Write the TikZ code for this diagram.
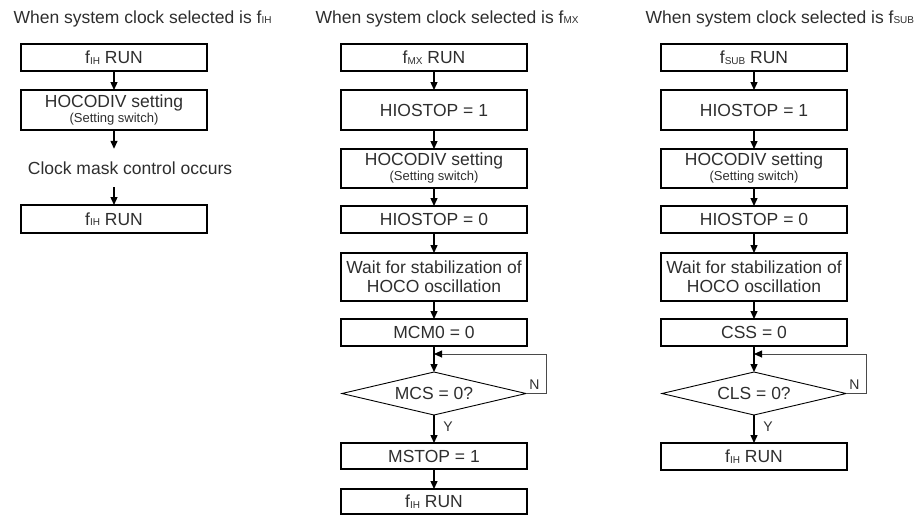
\documentclass[tikz,border=0pt]{standalone}
\usepackage{fontspec}
\setmainfont{Liberation Sans}
\usetikzlibrary{shapes.geometric, arrows.meta, positioning}
\definecolor{txtgray}{HTML}{2E2E2E}
\definecolor{loopgray}{HTML}{4A4A4A}
\newcommand{\clk}[1]{f\raisebox{-0.6pt}{\fontsize{10}{10}\selectfont #1}}
\newcommand{\smallnote}[1]{{\fontsize{13}{14}\selectfont #1}}

\begin{document}
\begin{tikzpicture}[x=1pt, y=-1pt,
    every node/.style={font=\fontsize{17.5}{19}\selectfont, text=txtgray},
    flowbox/.style={draw=black, line width=1.7pt, minimum width=186pt, minimum height=27pt, inner sep=0pt, outer sep=0pt, align=center},
    decide/.style={draw=black, line width=0.9pt, diamond, aspect=4.3, minimum width=184pt, minimum height=43pt, inner sep=0pt, outer sep=0pt},
    flow/.style={-{Triangle[length=8pt,width=7pt]}, line width=1.3pt},
    backloop/.style={-{Triangle[length=8pt,width=7pt,color=black]}, line width=0.9pt, draw=loopgray},
    yn/.style={font=\fontsize{14}{14}\selectfont}]
    \useasboundingbox (0,0) rectangle (917,515);
    % Titles
    \node[anchor=base west] (tl) at (10, 23) {When system clock selected is \clk{IH}};
    \node[anchor=base west] (tm) at (312, 23) {When system clock selected is \clk{MX}};
    \node[anchor=base west] (tr) at (642, 23) {When system clock selected is \clk{SUB}};
    % === LEFT: fIH ===
    \node[flowbox] (l1) at (114, 57.5) {\clk{IH} RUN};
    \node[flowbox, minimum height=40pt] (l2) at (114, 110) {HOCODIV setting\\[-4pt]\smallnote{(Setting switch)}};
    \node[inner sep=0pt, minimum height=38pt] (l3) at (130, 168) {Clock mask control occurs};
    \node[flowbox, minimum height=28pt] (l4) at (114, 219) {\clk{IH} RUN};
    \draw[flow] (l1) -- (l2);
    \draw[flow] (l2.south) -- (l2.south |- l3.north);
    \draw[flow] (l2.south |- l3.south) -- (l4);
    % === MIDDLE: fMX ===
    \node[flowbox] (m1) at (434, 57.5) {\clk{MX} RUN};
    \node[flowbox, minimum height=40pt] (m2) at (434, 110) {HIOSTOP = 1};
    \node[flowbox, minimum height=39pt] (m3) at (434, 168.5) {HOCODIV setting\\[-4pt]\smallnote{(Setting switch)}};
    \node[flowbox] (m4) at (434, 219.5) {HIOSTOP = 0};
    \node[flowbox, minimum height=48pt] (m5) at (434, 277) {Wait for stabilization of\\HOCO oscillation};
    \node[flowbox] (m6) at (434, 332.5) {MCM0 = 0};
    \coordinate (mj) at (434, 354);
    \node[decide] (m7) at (434, 393.5) {MCS = 0?};
    \node[flowbox, minimum height=26pt] (m8) at (434, 456) {MSTOP = 1};
    \node[flowbox, minimum height=25pt] (m9) at (434, 501.5) {\clk{IH} RUN};
    \foreach \a/\b in {m1/m2, m2/m3, m3/m4, m4/m5, m5/m6, m6/m7, m7/m8, m8/m9}
        \draw[flow] (\a) -- (\b);
    \draw[backloop] (m7.east) -- ++(20,0) |- (mj);
    \node[yn, anchor=south east] (mn) at (543, 393) {N};
    \node[yn] (my) at (448, 427) {Y};
    % === RIGHT: fSUB ===
    \node[flowbox] (r1) at (754, 57.5) {\clk{SUB} RUN};
    \node[flowbox, minimum height=40pt] (r2) at (754, 110) {HIOSTOP = 1};
    \node[flowbox, minimum height=39pt] (r3) at (754, 168.5) {HOCODIV setting\\[-4pt]\smallnote{(Setting switch)}};
    \node[flowbox] (r4) at (754, 219.5) {HIOSTOP = 0};
    \node[flowbox, minimum height=48pt] (r5) at (754, 277) {Wait for stabilization of\\HOCO oscillation};
    \node[flowbox] (r6) at (754, 332.5) {CSS = 0};
    \coordinate (rj) at (754, 354);
    \node[decide] (r7) at (754, 393.5) {CLS = 0?};
    \node[flowbox] (r8) at (754, 456.5) {\clk{IH} RUN};
    \foreach \a/\b in {r1/r2, r2/r3, r3/r4, r4/r5, r5/r6, r6/r7, r7/r8}
        \draw[flow] (\a) -- (\b);
    \draw[backloop] (r7.east) -- ++(20,0) |- (rj);
    \node[yn, anchor=south east] (rn) at (863, 393) {N};
    \node[yn] (ry) at (768, 427) {Y};
\end{tikzpicture}
\end{document}
